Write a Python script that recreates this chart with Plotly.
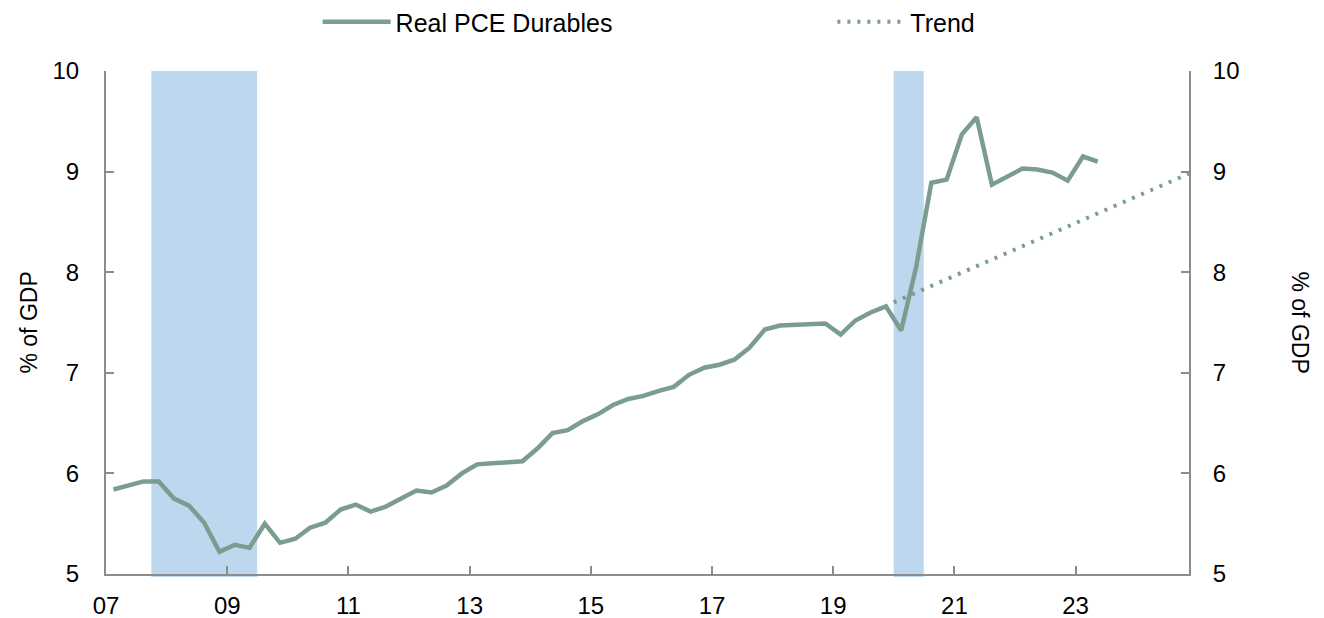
import plotly.graph_objects as go

# ---- data (quarterly, 2007Q1 - 2023Q2), % of GDP ----
quarters = [f"{y}Q{q}" for y in range(2007, 2024) for q in range(1, 5)][:66]
durables = [
    5.84, 5.88, 5.92, 5.92,   # 2007
    5.75, 5.68, 5.51, 5.22,   # 2008
    5.29, 5.26, 5.50, 5.31,   # 2009
    5.35, 5.46, 5.51, 5.64,   # 2010
    5.69, 5.62, 5.67, 5.75,   # 2011
    5.83, 5.81, 5.88, 6.00,   # 2012
    6.09, 6.10, 6.11, 6.12,   # 2013
    6.25, 6.40, 6.43, 6.52,   # 2014
    6.59, 6.68, 6.74, 6.77,   # 2015
    6.82, 6.86, 6.98, 7.05,   # 2016
    7.08, 7.13, 7.25, 7.43,   # 2017
    7.47, 7.475, 7.48, 7.49,  # 2018
    7.38, 7.52, 7.60, 7.66,   # 2019
    7.42, 8.05, 8.89, 8.92,   # 2020
    9.37, 9.54, 8.87, 8.95,   # 2021
    9.03, 9.02, 8.99, 8.91,   # 2022
    9.15, 9.10,               # 2023
]
trend_dates = ["2020-01-01", "2024-11-15"]
trend_values = [7.70, 8.98]

recessions = [("2007-10-01", "2009-06-30"), ("2020-01-01", "2020-06-30")]

tick_years = [2007, 2009, 2011, 2013, 2015, 2017, 2019, 2021, 2023]
tick_labels = ["07", "09", "11", "13", "15", "17", "19", "21", "23"]
y_ticks = [5, 6, 7, 8, 9, 10]

# mid-quarter dates
month_of_q = {"1": "02", "2": "05", "3": "08", "4": "11"}
dates = [f"{q[:4]}-{month_of_q[q[-1]]}-15" for q in quarters]

LINE = "#7A9D8F"
SHADE = "#BDD7EE"
AXIS = "#8C8C8C"
FONT = "Liberation Sans, Arial, sans-serif"
FS_TICK = 24
FS_LEG = 25
FS_TITLE = 23

fig = go.Figure()
fig.add_trace(go.Scatter(
    x=dates, y=durables, mode="lines", name="Real PCE Durables",
    line=dict(color=LINE, width=4.5), yaxis="y", legend="legend",
))
fig.add_trace(go.Scatter(
    x=trend_dates, y=trend_values, mode="lines", name="Trend",
    line=dict(color=LINE, width=4, dash="3px,7px"), yaxis="y2", legend="legend2",
))

for x0, x1 in recessions:
    fig.add_shape(type="rect", xref="x", yref="paper", x0=x0, x1=x1,
                  y0=-0.006, y1=1, fillcolor=SHADE, line_width=0, layer="below")

axis_common = dict(
    showline=True, linecolor=AXIS, linewidth=2, ticks="inside", ticklen=8,
    tickcolor=AXIS, tickwidth=1.5, showgrid=False, zeroline=False,
    tickfont=dict(family=FONT, size=FS_TICK, color="black"), automargin=False,
)

legend_common = dict(
    orientation="h", xanchor="left", y=1.0974, yanchor="middle",
    itemwidth=68, font=dict(family=FONT, size=FS_LEG, color="black"),
    bgcolor="rgba(0,0,0,0)",
)

fig.update_layout(
    width=1316, height=610,
    margin=dict(l=98, r=135, t=63, b=44, autoexpand=False),
    paper_bgcolor="white", plot_bgcolor="white",
    font=dict(family=FONT, size=FS_TICK, color="black"),
    xaxis=dict(
        type="date", range=["2007-01-01", "2024-11-15"],
        tickvals=[f"{y}-01-01" for y in tick_years], ticktext=tick_labels,
        ticklabelstandoff=9, **axis_common,
    ),
    yaxis=dict(range=[5, 10], tickvals=y_ticks, ticklabelstandoff=20, **axis_common),
    yaxis2=dict(range=[5, 10], tickvals=y_ticks, overlaying="y", side="right",
                ticklabelstandoff=17, **axis_common),
    showlegend=True,
    legend=dict(x=0.1954, **legend_common),
    legend2=dict(x=0.6707, **legend_common),
    annotations=[
        dict(text="% of GDP", xref="paper", yref="paper", x=-0.072, y=0.5,
             textangle=-90, showarrow=False, xanchor="center", yanchor="middle",
             font=dict(family=FONT, size=FS_TITLE, color="black")),
        dict(text="% of GDP", xref="paper", yref="paper", x=1.1025, y=0.5,
             textangle=90, showarrow=False, xanchor="center", yanchor="middle",
             font=dict(family=FONT, size=FS_TITLE, color="black")),
    ],
)

fig.write_html("out.html")
